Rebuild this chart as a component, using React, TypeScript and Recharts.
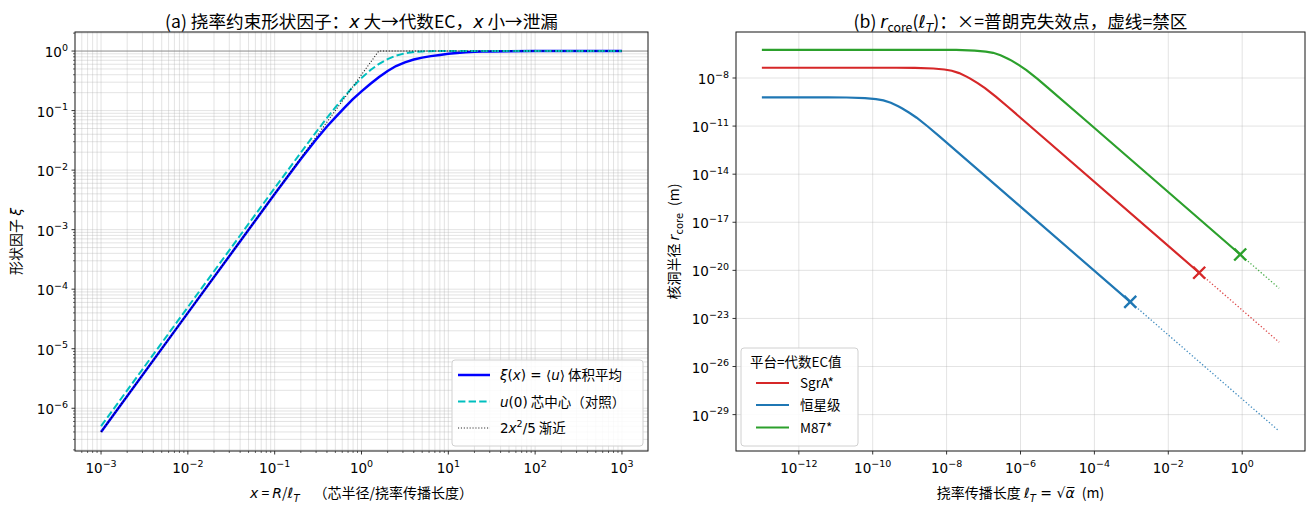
import React from 'react';
import { LineChart, Line, XAxis, YAxis, CartesianGrid, ReferenceLine } from 'recharts';

const FONT = "'Noto Sans CJK SC', 'DejaVu Sans', sans-serif";
const MATH = "'DejaVu Sans', sans-serif";

// ---------- Panel (a): shape factor ----------
const xValues = [0.001, 0.01, 0.1, 0.2, 0.3, 0.4, 0.5, 0.63, 0.79, 1, 1.26, 1.58, 2, 2.5, 3.16, 4, 5, 6.3, 8, 10, 12.6, 15.8, 20, 25, 31.6, 50, 100, 1000];
const xiAverage = [4.0e-7, 4.0e-5, 3.96e-3, 0.0153, 0.0326, 0.0541, 0.077, 0.11, 0.154, 0.21, 0.279, 0.362, 0.462, 0.56, 0.645, 0.721, 0.776, 0.822, 0.862, 0.898, 0.929, 0.953, 0.97, 0.98, 0.987, 0.995, 0.998, 1.0];
const uCenter = [5.0e-7, 5.0e-5, 4.99e-3, 0.0197, 0.0436, 0.0754, 0.113, 0.17, 0.247, 0.352, 0.475, 0.605, 0.734, 0.837, 0.915, 0.963, 0.987, 0.996, 0.999, 1.0, 1.0, 1.0, 1.0, 1.0, 1.0, 1.0, 1.0, 1.0];
const asymX = [0.001, 1.58, 1000];
const asymY = [4e-7, 1.0, 1.0];
const aXMajor = [1e-3, 1e-2, 1e-1, 1e0, 1e1, 1e2, 1e3];
const aYMajor = [1e-6, 1e-5, 1e-4, 1e-3, 1e-2, 1e-1, 1e0];
const aXDomain = [5.012e-4, 1995.3];
const aYDomain = [1.914e-7, 2.089];

// ---------- Panel (b): core radius ----------
const sgrL = [1e-13, 4.37e-10, 1.38e-9, 4.37e-9, 8.71e-9, 1.38e-8, 2.19e-8, 3.47e-8, 4.37e-8, 6.92e-8, 1.096e-7, 2.19e-7, 4.37e-7, 4.37e-6, 0.0686];
const sgrR = [4.37e-8, 4.36e-8, 4.31e-8, 3.92e-8, 3.39e-8, 2.82e-8, 2.02e-8, 1.22e-8, 9.16e-9, 4.80e-9, 2.36e-9, 6.68e-10, 1.73e-10, 1.75e-12, 7.08e-21];
const stellarL = [1e-13, 6.17e-12, 1.95e-11, 6.17e-11, 1.23e-10, 1.95e-10, 3.09e-10, 4.9e-10, 6.17e-10, 9.77e-10, 1.55e-9, 3.09e-9, 6.17e-9, 6.17e-8, 9.33e-4];
const stellarR = [6.17e-10, 6.15e-10, 6.08e-10, 5.53e-10, 4.79e-10, 3.98e-10, 2.85e-10, 1.72e-10, 1.29e-10, 6.78e-11, 3.33e-11, 9.44e-12, 2.44e-12, 2.47e-14, 1.07e-22];
const m87L = [1e-13, 5.75e-9, 1.82e-8, 5.75e-8, 1.148e-7, 1.82e-7, 2.88e-7, 4.57e-7, 5.75e-7, 9.12e-7, 1.445e-6, 2.88e-6, 5.75e-6, 5.75e-5, 0.883];
const m87R = [5.75e-7, 5.74e-7, 5.68e-7, 5.16e-7, 4.47e-7, 3.72e-7, 2.66e-7, 1.607e-7, 1.208e-7, 6.32e-8, 3.11e-8, 8.81e-9, 2.28e-9, 2.30e-11, 9.77e-20];
const sgrForbL = [0.0686, 10];
const sgrForbR = [7.08e-21, 3.31e-25];
const stellarForbL = [9.33e-4, 10];
const stellarForbR = [1.07e-22, 9.33e-31];
const m87ForbL = [0.883, 10];
const m87ForbR = [9.77e-20, 7.59e-22];
const bXMajor = [1e-12, 1e-10, 1e-8, 1e-6, 1e-4, 1e-2, 1e0];
const bYMajor = [1e-29, 1e-26, 1e-23, 1e-20, 1e-17, 1e-14, 1e-11, 1e-8];
const bXDomain = [1.995e-14, 50.12];
const bYDomain = [5.37e-32, 7.41e-6];

const RED = '#d62728';
const BLUE = '#1f77b4';
const GREEN = '#2ca02c';

const zip = (xs: number[], ys: number[]) => xs.map((x, i) => ({ x, y: ys[i] }));

function withMinors(majors: number[], lo: number, hi: number) {
  const out: number[] = [];
  const e0 = Math.floor(Math.log10(lo));
  const e1 = Math.ceil(Math.log10(hi));
  for (let e = e0; e <= e1; e++) {
    for (let k = 1; k <= 9; k++) {
      const v = k * Math.pow(10, e);
      if (v >= lo && v <= hi) out.push(k === 1 ? Math.pow(10, e) : v);
    }
  }
  majors.forEach((m) => { if (!out.some((o) => Math.abs(o / m - 1) < 1e-9)) out.push(m); });
  return out.sort((a, b) => a - b);
}

const isMajor = (v: number) => {
  const l = Math.log10(v);
  return Math.abs(l - Math.round(l)) < 1e-6;
};
const expText = (v: number) => {
  const e = Math.round(Math.log10(v));
  return e < 0 ? '\u2212' + String(-e) : String(e);
};

const Pow = ({ x, y, v, anchor }: any) => (
  <text x={x} y={y} textAnchor={anchor} fontFamily={MATH} fontSize={13.5} fill="#000">
    10<tspan dy={-6.5} fontSize={9.5}>{expText(v)}</tspan>
  </text>
);

const XTick = (props: any) => {
  const { x, y, payload } = props;
  const v = payload.value;
  const major = isMajor(v);
  return (
    <g>
      <line x1={x} x2={x} y1={y} y2={y + (major ? 3.5 : 2)} stroke="#000" strokeWidth={major ? 0.8 : 0.6} />
      {major ? <Pow x={x} y={y + 22} v={v} anchor="middle" /> : null}
    </g>
  );
};

const YTick = (props: any) => {
  const { x, y, payload } = props;
  const v = payload.value;
  const major = isMajor(v);
  return (
    <g>
      <line x1={x - (major ? 3.5 : 2)} x2={x} y1={y} y2={y} stroke="#000" strokeWidth={major ? 0.8 : 0.6} />
      {major ? <Pow x={x - 7} y={y + 6} v={v} anchor="end" /> : null}
    </g>
  );
};

const crossDot = (color: string) => (p: any) => {
  const { cx, cy } = p;
  const s = 6;
  return (
    <path
      key={'c' + color + (p.index ?? 0)}
      d={`M${cx - s},${cy - s}L${cx + s},${cy + s}M${cx - s},${cy + s}L${cx + s},${cy - s}`}
      stroke={color}
      strokeWidth={2.4}
      fill="none"
    />
  );
};

const PanelA = () => {
  const xTicks = withMinors(aXMajor, aXDomain[0], aXDomain[1]);
  const yTicks = withMinors(aYMajor, aYDomain[0], aYDomain[1]);
  return (
    <LineChart width={660} height={506} margin={{ top: 32, right: 12, bottom: 25, left: 15 }}>
      <CartesianGrid stroke="#b0b0b0" strokeOpacity={0.45} strokeWidth={0.8} />
      <XAxis
        dataKey="x" type="number" scale="log" domain={aXDomain} allowDataOverflow
        ticks={xTicks} interval={0} tickSize={0} tickMargin={0} axisLine={false} tickLine={false}
        tick={(p: any) => <XTick {...p} />} height={30}
      />
      <YAxis
        dataKey="y" type="number" scale="log" domain={aYDomain} allowDataOverflow
        ticks={yTicks} interval={0} tickSize={0} tickMargin={0} axisLine={false} tickLine={false}
        tick={(p: any) => <YTick {...p} />} width={60}
      />
      <ReferenceLine y={1} stroke="#808080" strokeWidth={0.8} />
      <Line data={zip(xValues, xiAverage)} dataKey="y" stroke="#0000ff" strokeWidth={2.5} dot={false} activeDot={false} isAnimationActive={false} />
      <Line data={zip(xValues, uCenter)} dataKey="y" stroke="#00bfbf" strokeWidth={2} strokeDasharray="7.4 3.2" dot={false} activeDot={false} isAnimationActive={false} />
      <Line data={zip(asymX, asymY)} dataKey="y" stroke="#000" strokeOpacity={0.85} strokeWidth={1.1} strokeDasharray="1.1 1.8" dot={false} activeDot={false} isAnimationActive={false} />
    </LineChart>
  );
};

const PanelB = () => (
  <LineChart width={648} height={506} margin={{ top: 32, right: 3, bottom: 25, left: 16 }}>
    <CartesianGrid stroke="#b0b0b0" strokeOpacity={0.45} strokeWidth={0.8} />
    <XAxis
      dataKey="x" type="number" scale="log" domain={bXDomain} allowDataOverflow
      ticks={bXMajor} interval={0} tickSize={0} tickMargin={0} axisLine={false} tickLine={false}
      tick={(p: any) => <XTick {...p} />} height={30}
    />
    <YAxis
      dataKey="y" type="number" scale="log" domain={bYDomain} allowDataOverflow
      ticks={bYMajor} interval={0} tickSize={0} tickMargin={0} axisLine={false} tickLine={false}
      tick={(p: any) => <YTick {...p} />} width={60}
    />
    <Line data={zip(sgrL, sgrR)} dataKey="y" stroke={RED} strokeWidth={2.2} dot={false} activeDot={false} isAnimationActive={false} />
    <Line data={zip(sgrForbL, sgrForbR)} dataKey="y" stroke={RED} strokeOpacity={0.85} strokeWidth={1.3} strokeDasharray="1.3 2.1" dot={false} activeDot={false} isAnimationActive={false} />
    <Line data={zip(stellarL, stellarR)} dataKey="y" stroke={BLUE} strokeWidth={2.2} dot={false} activeDot={false} isAnimationActive={false} />
    <Line data={zip(stellarForbL, stellarForbR)} dataKey="y" stroke={BLUE} strokeOpacity={0.85} strokeWidth={1.3} strokeDasharray="1.3 2.1" dot={false} activeDot={false} isAnimationActive={false} />
    <Line data={zip(m87L, m87R)} dataKey="y" stroke={GREEN} strokeWidth={2.2} dot={false} activeDot={false} isAnimationActive={false} />
    <Line data={zip(m87ForbL, m87ForbR)} dataKey="y" stroke={GREEN} strokeOpacity={0.85} strokeWidth={1.3} strokeDasharray="1.3 2.1" dot={false} activeDot={false} isAnimationActive={false} />
    <Line data={zip(sgrForbL.slice(0, 1), sgrForbR.slice(0, 1))} dataKey="y" stroke="none" dot={crossDot(RED)} activeDot={false} isAnimationActive={false} />
    <Line data={zip(stellarForbL.slice(0, 1), stellarForbR.slice(0, 1))} dataKey="y" stroke="none" dot={crossDot(BLUE)} activeDot={false} isAnimationActive={false} />
    <Line data={zip(m87ForbL.slice(0, 1), m87ForbR.slice(0, 1))} dataKey="y" stroke="none" dot={crossDot(GREEN)} activeDot={false} isAnimationActive={false} />
  </LineChart>
);

const I = ({ children, ...rest }: any) => (
  <tspan fontFamily={MATH} fontStyle="italic" {...rest}>{children}</tspan>
);

const Overlay = () => (
  <svg width={1308} height={506} style={{ position: 'absolute', left: 0, top: 0, pointerEvents: 'none' }} fontFamily={FONT}>
    {/* frames */}
    <rect x={75} y={32} width={573} height={419} fill="none" stroke="#222" strokeWidth={1} />
    <rect x={736} y={32} width={569} height={419} fill="none" stroke="#222" strokeWidth={1} />

    {/* titles */}
    <text x={361.5} y={28} textAnchor="middle" fontSize={17.6} fill="#000">
      (a) 挠率约束形状因子：<I>x</I> 大→代数EC，<I>x</I> 小→泄漏
    </text>
    <text x={1020.5} y={28} textAnchor="middle" fontSize={17.6} fill="#000">
      (b) <I>r</I><tspan dy={4} fontSize={12.3}>core</tspan><tspan dy={-4}>(</tspan><I>ℓ</I><I dy={4} fontSize={12.3}>T</I><tspan dy={-4}>)：×=普朗克失效点，虚线=禁区</tspan>
    </text>

    {/* axis labels */}
    <text x={361.5} y={498} textAnchor="middle" fontSize={14} fill="#000">
      <I>x</I> = <I>R</I>/<I>ℓ</I><I dy={3.5} fontSize={10}>T</I><tspan dy={-3.5}>{'\u2003'}（芯半径/挠率传播长度）</tspan>
    </text>
    <text transform="translate(21,241.5) rotate(-90)" textAnchor="middle" fontSize={14} fill="#000">
      形状因子 <I>ξ</I>
    </text>
    <text x={1020.5} y={498} textAnchor="middle" fontSize={14} fill="#000">
      挠率传播长度 <I>ℓ</I><I dy={3.5} fontSize={10}>T</I><tspan dy={-3.5} fontFamily={MATH}> = √</tspan><I>α̅</I>{'\u2002'}(m)
    </text>
    <text transform="translate(679,241.5) rotate(-90)" textAnchor="middle" fontSize={14} fill="#000">
      核洞半径 <I>r</I><tspan dy={3.5} fontSize={10} fontFamily={MATH}>core</tspan><tspan dy={-3.5}>{'\u2002'}(m)</tspan>
    </text>

    {/* legend (a) */}
    <rect x={452} y={360} width={191} height={86} rx={3} fill="#fff" fillOpacity={0.85} stroke="#d0d0d0" strokeWidth={1} />
    <line x1={458} x2={490} y1={375} y2={375} stroke="#0000ff" strokeWidth={2.5} />
    <text x={500} y={380} fontSize={13.5} fill="#000">
      <I>ξ</I><tspan fontFamily={MATH}>(</tspan><I>x</I><tspan fontFamily={MATH}>) = ⟨</tspan><I>u</I><tspan fontFamily={MATH}>⟩</tspan> 体积平均
    </text>
    <line x1={458} x2={490} y1={401.5} y2={401.5} stroke="#00bfbf" strokeWidth={2} strokeDasharray="7.4 3.2" />
    <text x={500} y={406.5} fontSize={13.5} fill="#000">
      <I>u</I><tspan fontFamily={MATH}>(0)</tspan> 芯中心（对照）
    </text>
    <line x1={458} x2={490} y1={428} y2={428} stroke="#000" strokeOpacity={0.85} strokeWidth={1.1} strokeDasharray="1.1 1.8" />
    <text x={500} y={433} fontSize={13.5} fill="#000">
      <tspan fontFamily={MATH}>2</tspan><I>x</I><tspan dy={-6} fontSize={9.5} fontFamily={MATH}>2</tspan><tspan dy={6} fontFamily={MATH}>/5</tspan> 渐近
    </text>

    {/* legend (b) */}
    <rect x={741} y={348} width={117} height={98} rx={3} fill="#fff" fillOpacity={0.85} stroke="#d0d0d0" strokeWidth={1} />
    <text x={750} y={367} fontSize={13.5} fill="#000">平台=代数EC值</text>
    <line x1={756} x2={789} y1={383} y2={383} stroke={RED} strokeWidth={2.2} />
    <text x={800} y={388} fontSize={13.5} fill="#000">SgrA*</text>
    <line x1={756} x2={789} y1={405} y2={405} stroke={BLUE} strokeWidth={2.2} />
    <text x={800} y={410} fontSize={13.5} fill="#000">恒星级</text>
    <line x1={756} x2={789} y1={427.5} y2={427.5} stroke={GREEN} strokeWidth={2.2} />
    <text x={800} y={432.5} fontSize={13.5} fill="#000">M87*</text>
  </svg>
);

export default function App() {
  return (
    <div style={{ position: 'absolute', left: 0, top: 0, width: 1308, height: 506, background: '#fff', fontFamily: FONT }}>
      <div style={{ position: 'absolute', left: 0, top: 0 }}>
        <PanelA />
      </div>
      <div style={{ position: 'absolute', left: 660, top: 0 }}>
        <PanelB />
      </div>
      <Overlay />
    </div>
  );
}
